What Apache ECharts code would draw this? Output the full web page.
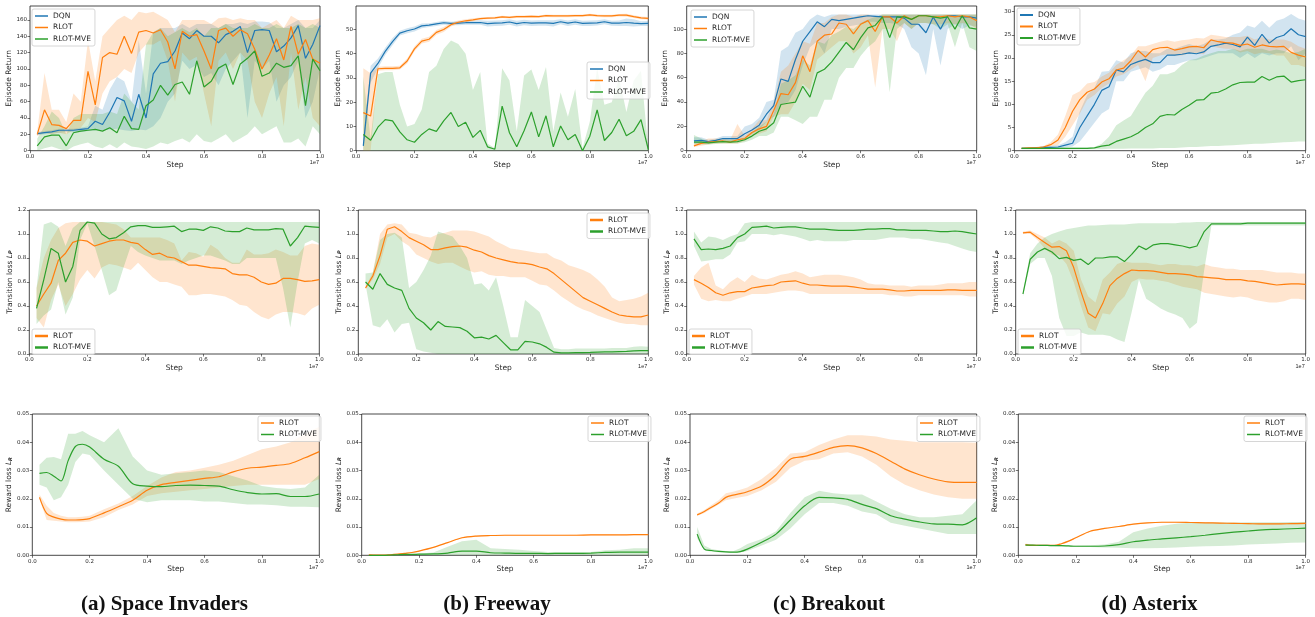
<!DOCTYPE html>
<html>
<head>
<meta charset="utf-8">
<script src="https://cdn.jsdelivr.net/npm/echarts@6/dist/echarts.min.js"></script>
<style>html,body{margin:0;padding:0;background:#fff}#main{width:1315px;height:617px}</style>
</head>
<body>
<div id="main"></div>
<script>
// steps in units of 1e7
var STEPS = [0.025,0.05,0.075,0.1,0.125,0.15,0.175,0.2,0.225,0.25,0.275,0.3,0.325,0.35,0.375,0.4,0.425,0.45,0.475,0.5,
  0.525,0.55,0.575,0.6,0.625,0.65,0.675,0.7,0.725,0.75,0.775,0.8,0.825,0.85,0.875,0.9,0.925,0.95,0.975,1.0];
var STEPS_R = [0.025,0.05,0.075,0.1,0.125,0.15,0.175,0.2,0.25,0.3,0.35,0.4,0.45,0.5,0.55,0.6,0.65,0.7,0.75,0.8,0.85,0.9,0.95,1.0];

var TICKS_X = [0,0.2,0.4,0.6,0.8,1.0];
var TICKS_SI_RET = [0,20,40,60,80,100,120,140,160];
var TICKS_FW_RET = [0,10,20,30,40,50];
var TICKS_BO_RET = [0,20,40,60,80,100];
var TICKS_AX_RET = [0,5,10,15,20,25,30];
var TICKS_TR = [0,0.2,0.4,0.6,0.8,1.0,1.2];
var TICKS_RW = [0,0.01,0.02,0.03,0.04,0.05];

var TITLES = ['(a) Space Invaders','(b) Freeway','(c) Breakout','(d) Asterix'];

// ---- episode return ----
var si_ret_dqn    = [21,22,23,25,25,25,26,27,36,32,47,65,61,36,69,40,94,107,109,122,144,137,147,140,140,132,142,146,152,120,147,148,147,121,128,138,153,113,130,153];
var si_ret_dqn_lo = [19,20,21,22,23,23,23,24,25,25,26,27,25,24,26,25,30,40,60,70,110,100,105,90,95,80,100,110,120,40,110,100,110,60,80,90,110,40,60,100];
var si_ret_dqn_hi = [23,24,25,27,27,27,28,30,55,50,75,90,85,60,135,70,145,150,150,150,155,150,155,155,155,150,155,155,157,155,158,158,157,150,150,155,160,150,150,160];
var si_ret_rlot    = [20,50,32,31,27,37,37,97,56,114,120,118,140,119,145,147,144,148,133,100,146,140,142,122,100,147,150,140,148,143,124,100,117,137,111,152,118,136,112,107];
var si_ret_rlot_lo = [18,22,20,22,20,25,28,40,35,70,85,90,100,95,120,130,130,135,110,60,120,110,115,70,30,110,120,100,120,110,60,40,70,90,30,120,50,90,40,30];
var si_ret_rlot_hi = [24,95,50,50,35,70,60,135,85,140,150,160,165,160,170,168,170,165,160,145,160,160,160,160,155,162,163,160,162,160,160,150,155,160,150,165,160,160,160,162];
var si_ret_mve    = [6,17,19,19,6,22,24,25,26,24,28,22,42,27,26,55,62,80,68,81,84,69,110,78,85,101,106,81,106,113,122,91,95,107,102,104,116,55,112,98];
var si_ret_mve_lo = [0,3,5,2,0,5,8,10,5,3,8,3,10,5,4,2,5,10,8,12,15,10,20,12,10,15,20,10,15,20,30,20,25,30,10,10,15,5,30,20];
var si_ret_mve_hi = [15,30,48,40,20,40,45,45,45,45,48,45,70,60,50,130,145,150,140,145,150,145,150,140,150,150,155,150,150,150,155,150,150,155,150,150,155,150,155,150];

var fw_ret_dqn    = [2,32,36,41,45,48.5,49.5,50.2,51.5,51.8,52.3,52.8,52.5,52.6,52.8,52.8,52.9,52.4,52.6,52.7,53.1,52.4,52.9,52.6,52.7,52.7,52.5,53.2,52.6,53.1,52.5,52.6,52.7,53.2,52.6,52.6,52.9,52.6,52.4,52.5];
var fw_ret_dqn_lo = [0,28,34,39.5,43.5,47.5,48.5,49.2,50.5,51,51.5,52,51.8,51.8,52,52,52,51.2,51.5,51.6,52,51.2,51.8,51.5,51.6,51.6,51.2,52.2,51.5,52,51.4,51.5,51.7,52.2,51.6,51.5,51.5,51.2,51.4,51.5];
var fw_ret_dqn_hi = [5,35,38,42.5,46.5,49.5,50.5,51.2,52.5,52.6,53.1,53.6,53.2,53.4,53.6,53.6,53.8,53.6,53.7,53.8,54.2,53.6,54,53.7,53.8,53.8,53.8,54.2,53.7,54.2,53.6,53.7,53.8,54.2,53.6,53.7,54.5,54.2,53.4,53.5];
var fw_ret_rlot    = [15.7,14.3,33.8,34,34,34.2,37,42,45.2,46,48.8,50,52,53,53.6,54,54.5,54.7,54.8,55.2,55,55.3,55.3,55.4,55.3,55.7,55.6,55.6,55.6,55.7,55.7,56,55.7,55.6,55.6,55.9,55.9,55.3,54.8,54.6];
var fw_ret_rlot_lo = [0,0,33,33.2,33.2,33.5,36,41,44.2,45,47.8,49,51.2,52.3,53,53.4,54,54.2,54.3,54.7,54.5,54.8,54.8,54.9,54.8,55.2,55.1,55.1,55.1,55.2,55.2,55.5,55.2,55.1,55.1,55.4,55.3,54.7,54.2,54];
var fw_ret_rlot_hi = [34,32,34.6,34.8,34.8,35,38,43,46.2,47,49.8,51,52.8,53.7,54.2,54.6,55,55.2,55.3,55.7,55.5,55.8,55.8,55.9,55.8,56.2,56.1,56.1,56.1,56.2,56.2,56.5,56.2,56.1,56.1,56.4,56.5,55.9,55.4,55.2];
var fw_ret_mve    = [6.7,4.3,9.7,12.8,12.3,7.8,4.5,3.5,6.7,9,8,12.3,15.8,10,11.7,5.5,8.4,1.6,0.6,18.4,7.4,1.6,8.2,16,5.7,14.4,1.6,10.2,4.5,6.7,0,6,16.8,4.2,7.5,13,6.2,8,12.8,0.5];
var fw_ret_mve_lo = [0,0,0,0,0,0,0,0,0,0,0,0,0,0,0,0,0,0,0,0,0,0,0,0,0,0,0,0,0,0,0,0,0,0,0,0,0,0,0,0];
var fw_ret_mve_hi = [30.5,5,31.5,32.5,32.5,19,10,11,17,32.5,35,42,45.5,44,40,25,32.5,3,1,34,29,8,31,33.5,25,34.5,8,24,14,25.5,1,12,34,19,20,30,16,29,33,1];

var bo_ret_dqn    = [8,8.5,7.5,8.5,10,10,10,14,17,21,30,37,59,57,75,90,98,106,102,108,107,108,109,110,111,110.5,110,110,110,109,104,104,97,110,100,111,111,110,110,109];
var bo_ret_dqn_lo = [6,6,6,7,8,8,8,11,14,17,24,28,38,40,50,70,85,90,80,100,100,102,103,104,106,106,105,105,104,100,85,80,62,100,70,100,104,100,103,102];
var bo_ret_dqn_hi = [11,11,9,10,12,12,12,20,22,27,40,42,82,86,97,100,108,112,110,112,112,112,112,112,112,112,112,112,112,112,112,112,112,112,112,112,112,112,112,112];
var bo_ret_rlot    = [4,6,7,7.5,8,7,9,10,15,18,20,33,47,46,56,78,65,90,95,96,105,104,96,104,107,98,110,110,105,111,108,111,111,110,110,111,110,111,110,107];
var bo_ret_rlot_lo = [3,4,5,6,6,6,6,8,12,14,16,28,30,30,40,55,50,75,80,85,90,90,80,85,95,52,100,100,90,105,100,105,105,104,104,105,104,105,104,100];
var bo_ret_rlot_hi = [6,8,10,10,10,9,22,12,18,25,25,40,65,70,80,90,88,105,105,110,112,112,110,112,112,110,112,112,112,112,112,112,112,112,112,112,112,112,112,112];
var bo_ret_mve    = [7,7,6.5,7,7.5,7,7.5,9,12,16,18,23,38,39,40,53,44,64,67,73,81,89,83,93,101,103,110,93,110,110,108,111,111,110,109,110,100,111,101,100];
var bo_ret_mve_lo = [5,5,5,5.5,6,6,6,7,9,12,12,15,28,28,25,22,28,28,42,42,60,68,68,78,85,90,100,48,100,105,100,105,105,104,100,104,85,105,85,82];
var bo_ret_mve_hi = [13,10,8,9,9,9,9,11,15,20,24,30,55,58,62,75,70,90,88,95,98,102,100,105,108,110,112,112,112,112,112,112,112,112,112,112,112,112,112,112];

var ax_ret_dqn    = [0.5,0.5,0.6,0.7,0.7,0.8,1.2,1.6,5,7.5,10,13,13.8,17.4,17,18.6,19.2,19.7,19,19,20.6,20.6,20.8,21.1,20.9,21.3,22.5,22.8,23.2,22.9,22.4,24.5,22.7,25.1,23.2,24.4,24.9,26.3,25,24.6];
var ax_ret_dqn_lo = [0.4,0.4,0.4,0.5,0.5,0.5,0.7,0.9,2,4,6,8,9,15,15,17,17.5,18,17,17.5,18.5,18.5,19,19.5,19.5,20,20.5,21,21,21,20,21,20,21,20.5,21,21,22.5,19.5,21];
var ax_ret_dqn_hi = [0.6,0.7,0.8,0.9,1,1.2,1.8,3,8.5,12,13.5,17,17.2,19.5,19,21,21.5,21.5,21,21,22,22,22.5,23,22.5,23,24,24,24.2,25,25.5,27,26.5,28,26.5,28,28.5,29.5,28.5,28];
var ax_ret_rlot    = [0.5,0.6,0.6,0.8,1.3,2.3,5,8.5,11,12.6,13.3,14.8,15.5,17.4,17.8,19.4,21.6,20.2,21.8,22.2,22.3,21.7,22,22.4,22.5,22.2,23.9,23.5,23.3,23.2,22.7,23,22.3,22.8,22.5,22.4,22.5,21.2,20.6,20.2];
var ax_ret_rlot_lo = [0.4,0.5,0.5,0.6,0.9,1.2,3,5.5,8,11,12,13.5,14.5,16,16.5,17.5,18.5,15,20,20.5,20.8,20.5,20.5,21,21,20.8,22.5,22.2,22,22,21.2,21.5,20.8,21.2,21,20.5,20.5,18.5,18.5,18];
var ax_ret_rlot_hi = [0.6,0.7,0.8,1,1.8,3.5,7.5,12,12.8,14.5,14.8,16,16.8,18.5,19.5,20.5,22.5,22.5,23,23.5,23.8,23.5,23.8,24,24.3,24.2,25,24.8,24.5,24.5,24.5,24.8,24,24.5,24,24,24,23.5,22.5,22];
var ax_ret_mve    = [0.5,0.5,0.5,0.5,0.5,0.5,0.5,0.5,0.5,0.5,0.6,1,1.2,2,2.5,3,3.8,5,5.8,7.4,7.8,7.7,8.9,9.8,10.9,11,12.4,12.6,13.3,14.2,14.7,14.8,14.8,16,15.2,15.9,16.1,14.8,15.1,15.3];
var ax_ret_mve_lo = [0.3,0.3,0.3,0.3,0.3,0.3,0.3,0.3,0.3,0.3,0.3,0.3,0.4,0.4,0.4,0.5,0.5,0.5,0.5,0.6,0.6,0.6,0.7,0.8,0.8,0.9,1,1,1.1,1.2,1.3,1.4,1.5,1.5,1.6,1.7,1.8,1.9,2,2];
var ax_ret_mve_hi = [0.7,0.7,0.7,0.7,0.7,0.7,0.7,0.7,0.7,0.7,0.8,1.5,3,5.5,6.5,7.5,10,12.5,14,16.5,16.5,17,18.5,19.5,19.8,20.5,21,21.5,21.5,22,21.5,22,22,22,21.5,21.8,21.5,21,21.3,22];

// ---- transition loss ----
var si_tr_rlot    = [0.40,0.50,0.59,0.78,0.84,0.93,0.95,0.94,0.90,0.92,0.94,0.95,0.95,0.93,0.92,0.87,0.83,0.84,0.81,0.80,0.77,0.74,0.74,0.73,0.72,0.715,0.71,0.67,0.66,0.66,0.64,0.60,0.58,0.59,0.63,0.63,0.62,0.605,0.61,0.62];
var si_tr_rlot_lo = [0.30,0.22,0.45,0.58,0.40,0.50,0.62,0.70,0.63,0.72,0.75,0.74,0.72,0.70,0.76,0.70,0.64,0.60,0.60,0.58,0.56,0.49,0.49,0.50,0.50,0.49,0.48,0.45,0.41,0.40,0.35,0.31,0.29,0.33,0.35,0.35,0.34,0.32,0.38,0.41];
var si_tr_rlot_hi = [0.55,0.80,0.95,1.05,1.09,1.10,1.10,1.10,1.10,1.10,1.09,1.08,1.04,0.97,0.97,0.97,0.97,0.97,0.95,0.92,0.78,0.85,0.84,0.81,0.91,0.87,0.80,0.76,0.76,0.87,0.83,0.83,0.84,0.87,0.85,0.82,0.82,0.90,0.92,0.91];
var si_tr_mve    = [0.38,0.62,0.88,0.84,0.60,0.73,1.03,1.10,1.09,1.00,0.96,0.97,1.01,1.06,1.07,1.07,1.055,1.055,1.06,1.065,1.02,1.04,1.04,1.03,1.06,1.05,1.025,1.02,1.02,1.05,1.035,1.035,1.035,1.045,1.04,0.90,0.97,1.065,1.06,1.055];
var si_tr_mve_lo = [0.25,0.32,0.37,0.60,0.33,0.47,0.95,1.09,0.90,0.70,0.49,0.53,0.72,0.90,0.85,0.82,0.80,0.78,0.78,0.78,0.75,0.78,0.80,0.82,0.82,0.80,0.78,0.75,0.75,0.80,0.80,0.80,0.80,0.80,0.55,0.22,0.60,0.92,0.95,0.92];
var si_tr_mve_hi = [0.55,1.08,1.10,1.06,0.90,1.05,1.10,1.10,1.10,1.10,1.10,1.10,1.10,1.10,1.10,1.10,1.10,1.10,1.10,1.10,1.10,1.10,1.10,1.10,1.10,1.10,1.10,1.10,1.10,1.10,1.10,1.10,1.10,1.10,1.10,1.10,1.10,1.10,1.10,1.10];

var fw_tr_rlot    = [0.55,0.65,0.82,1.04,1.06,1.02,0.97,0.94,0.91,0.87,0.87,0.885,0.895,0.90,0.89,0.865,0.85,0.82,0.80,0.785,0.77,0.76,0.755,0.745,0.725,0.71,0.67,0.62,0.57,0.52,0.47,0.44,0.41,0.38,0.35,0.325,0.315,0.31,0.31,0.325];
var fw_tr_rlot_lo = [0.54,0.62,0.75,0.97,1.0,0.94,0.90,0.83,0.80,0.77,0.75,0.76,0.76,0.73,0.70,0.68,0.69,0.66,0.65,0.65,0.64,0.64,0.64,0.61,0.58,0.57,0.53,0.48,0.44,0.40,0.37,0.35,0.32,0.30,0.28,0.26,0.25,0.25,0.24,0.24];
var fw_tr_rlot_hi = [0.56,0.68,1.0,1.08,1.09,1.08,1.01,1.00,0.98,0.97,1.0,1.01,1.03,1.03,1.03,1.02,1.0,0.98,0.94,0.91,0.88,0.87,0.86,0.85,0.84,0.84,0.80,0.78,0.74,0.72,0.70,0.67,0.62,0.56,0.47,0.44,0.45,0.46,0.48,0.51];
var fw_tr_mve    = [0.60,0.54,0.67,0.58,0.55,0.53,0.38,0.30,0.26,0.20,0.27,0.23,0.225,0.22,0.19,0.135,0.14,0.125,0.155,0.095,0.035,0.035,0.105,0.10,0.085,0.055,0.015,0.01,0.01,0.012,0.012,0.013,0.015,0.017,0.018,0.02,0.022,0.026,0.028,0.028];
var fw_tr_mve_lo = [0.58,0.24,0.22,0.29,0.18,0.25,0.26,0.04,0.02,0.01,0,0,0,0,0,0,0,0,0,0,0,0,0,0,0,0,0,0,0,0,0,0,0,0,0,0,0,0,0,0];
var fw_tr_mve_hi = [0.67,0.68,0.95,1.0,1.01,0.97,0.55,0.60,0.70,0.82,1.02,1.0,0.98,0.90,0.80,0.58,0.59,0.53,0.64,0.40,0.14,0.14,0.45,0.40,0.35,0.20,0.05,0.04,0.04,0.045,0.045,0.045,0.045,0.045,0.05,0.05,0.05,0.06,0.065,0.06];

var bo_tr_rlot    = [0.62,0.59,0.555,0.51,0.49,0.51,0.52,0.52,0.55,0.56,0.57,0.575,0.60,0.605,0.61,0.59,0.575,0.575,0.57,0.565,0.565,0.565,0.56,0.55,0.54,0.54,0.54,0.535,0.525,0.525,0.53,0.53,0.53,0.53,0.53,0.535,0.535,0.53,0.53,0.53];
var bo_tr_rlot_lo = [0.58,0.46,0.44,0.45,0.44,0.44,0.46,0.48,0.50,0.50,0.50,0.51,0.52,0.53,0.53,0.52,0.50,0.50,0.50,0.50,0.50,0.50,0.50,0.50,0.50,0.50,0.50,0.49,0.49,0.48,0.48,0.49,0.49,0.49,0.49,0.49,0.49,0.49,0.48,0.48];
var bo_tr_rlot_hi = [0.65,0.72,0.76,0.57,0.54,0.60,0.64,0.60,0.66,0.63,0.62,0.64,0.66,0.67,0.69,0.67,0.64,0.65,0.66,0.66,0.66,0.65,0.64,0.62,0.59,0.58,0.58,0.57,0.57,0.57,0.56,0.57,0.57,0.57,0.58,0.59,0.59,0.59,0.60,0.60];
var bo_tr_mve    = [0.96,0.87,0.875,0.87,0.88,0.90,0.97,1.0,1.055,1.06,1.065,1.05,1.055,1.06,1.06,1.05,1.04,1.04,1.04,1.035,1.03,1.03,1.03,1.035,1.04,1.04,1.045,1.045,1.035,1.035,1.03,1.03,1.03,1.025,1.02,1.02,1.025,1.02,1.01,1.0];
var bo_tr_mve_lo = [0.90,0.77,0.78,0.79,0.79,0.83,0.93,0.94,1.0,1.0,1.0,0.99,1.0,0.99,0.98,0.96,0.94,0.95,0.94,0.94,0.94,0.94,0.95,0.95,0.95,0.95,0.96,0.97,0.97,0.97,0.96,0.96,0.95,0.94,0.93,0.92,0.90,0.88,0.86,0.85];
var bo_tr_mve_hi = [1.02,0.93,0.98,0.97,0.95,0.98,1.0,1.09,1.10,1.10,1.10,1.10,1.10,1.10,1.10,1.10,1.10,1.10,1.10,1.10,1.10,1.10,1.10,1.10,1.10,1.10,1.10,1.10,1.10,1.10,1.10,1.10,1.10,1.10,1.10,1.10,1.10,1.10,1.10,1.10];

var ax_tr_rlot    = [1.01,1.015,0.97,0.93,0.89,0.895,0.86,0.72,0.52,0.34,0.30,0.42,0.57,0.63,0.67,0.70,0.695,0.695,0.69,0.68,0.67,0.67,0.665,0.66,0.645,0.64,0.635,0.63,0.62,0.62,0.62,0.61,0.605,0.595,0.585,0.575,0.58,0.585,0.585,0.58];
var ax_tr_rlot_lo = [1.0,1.0,0.95,0.88,0.83,0.82,0.75,0.60,0.40,0.22,0.19,0.34,0.33,0.42,0.48,0.60,0.63,0.62,0.62,0.61,0.60,0.58,0.56,0.55,0.54,0.51,0.50,0.49,0.48,0.47,0.48,0.47,0.45,0.44,0.43,0.43,0.44,0.46,0.46,0.45];
var ax_tr_rlot_hi = [1.02,1.03,1.0,0.97,0.92,0.95,0.92,0.86,0.62,0.48,0.43,0.62,0.68,0.75,0.77,0.76,0.76,0.76,0.75,0.74,0.75,0.75,0.74,0.74,0.73,0.75,0.73,0.72,0.71,0.71,0.70,0.70,0.70,0.70,0.69,0.68,0.68,0.68,0.67,0.67];
var ax_tr_mve    = [0.50,0.79,0.85,0.88,0.85,0.795,0.805,0.78,0.79,0.745,0.80,0.80,0.81,0.81,0.77,0.83,0.90,0.87,0.91,0.92,0.92,0.91,0.90,0.885,0.90,1.02,1.085,1.085,1.085,1.085,1.085,1.09,1.09,1.09,1.09,1.09,1.09,1.09,1.09,1.09];
var ax_tr_mve_lo = [0.48,0.75,0.80,0.80,0.65,0.30,0.15,0.15,0.18,0.16,0.16,0.16,0.15,0.12,0.10,0.35,0.62,0.46,0.42,0.38,0.35,0.33,0.30,0.21,0.26,0.70,1.07,1.07,1.07,1.07,1.07,1.07,1.07,1.07,1.07,1.07,1.07,1.07,1.07,1.07];
var ax_tr_mve_hi = [0.52,0.84,0.92,0.97,1.0,1.02,1.04,1.05,1.06,1.07,1.07,1.075,1.08,1.08,1.08,1.085,1.09,1.09,1.09,1.09,1.09,1.09,1.095,1.095,1.10,1.10,1.10,1.10,1.10,1.10,1.10,1.10,1.10,1.10,1.10,1.10,1.10,1.10,1.10,1.10];

// ---- reward loss (on STEPS_R) ----
var si_rw_rlot    = [0.0205,0.0148,0.0135,0.0128,0.0125,0.0125,0.0126,0.0130,0.0150,0.0172,0.0195,0.0230,0.0250,0.0258,0.0265,0.0272,0.0278,0.0295,0.0308,0.0312,0.0318,0.0325,0.0345,0.0367];
var si_rw_rlot_lo = [0.0200,0.0125,0.0122,0.0120,0.0117,0.0117,0.0118,0.0120,0.0135,0.0160,0.0180,0.0210,0.0220,0.0225,0.0230,0.0235,0.0240,0.0245,0.0250,0.0250,0.0250,0.0250,0.0250,0.0270];
var si_rw_rlot_hi = [0.0215,0.0175,0.0150,0.0140,0.0135,0.0135,0.0136,0.0140,0.0163,0.0183,0.0210,0.0245,0.0275,0.0295,0.0300,0.0310,0.0320,0.0335,0.0355,0.0375,0.0385,0.0400,0.0430,0.0455];
var si_rw_mve    = [0.0290,0.0293,0.0280,0.0263,0.0335,0.0385,0.0393,0.0383,0.0340,0.0315,0.0253,0.0245,0.0243,0.0247,0.0248,0.0247,0.0245,0.0232,0.0222,0.0217,0.0218,0.0208,0.0208,0.0217];
var si_rw_mve_lo = [0.0250,0.0240,0.0195,0.0205,0.0250,0.0330,0.0360,0.0355,0.0300,0.0250,0.0200,0.0188,0.0195,0.0195,0.0195,0.0190,0.0190,0.0185,0.0180,0.0180,0.0177,0.0172,0.0172,0.0170];
var si_rw_mve_hi = [0.0320,0.0345,0.0348,0.0340,0.0430,0.0430,0.0440,0.0425,0.0400,0.0450,0.0350,0.0300,0.0285,0.0290,0.0295,0.0300,0.0295,0.0280,0.0265,0.0245,0.0238,0.0235,0.0240,0.0285];

var fw_rw_rlot    = [0.0002,0.0001,0.0001,0.0002,0.0004,0.0007,0.0010,0.0015,0.0028,0.0045,0.0062,0.0068,0.0070,0.0071,0.0071,0.0071,0.0071,0.0071,0.0071,0.0072,0.0072,0.0072,0.0073,0.0073];
var fw_rw_rlot_lo = [0.0000,0.0000,0.0000,0.0001,0.0003,0.0006,0.0009,0.0014,0.0027,0.0044,0.0060,0.0066,0.0068,0.0069,0.0069,0.0069,0.0069,0.0069,0.0069,0.0070,0.0070,0.0070,0.0071,0.0071];
var fw_rw_rlot_hi = [0.0004,0.0002,0.0002,0.0003,0.0005,0.0008,0.0011,0.0016,0.0029,0.0046,0.0064,0.0070,0.0072,0.0073,0.0073,0.0073,0.0073,0.0073,0.0074,0.0075,0.0075,0.0074,0.0075,0.0075];
var fw_rw_mve    = [0.0000,0.0000,0.0000,0.0001,0.0002,0.0003,0.0003,0.0004,0.0005,0.0008,0.0015,0.0015,0.0009,0.0008,0.0007,0.0007,0.0006,0.0007,0.0007,0.0008,0.0010,0.0011,0.0011,0.0011];
var fw_rw_mve_lo = [0,0,0,0,0,0,0,0,0,0,0,0,0,0,0,0,0,0,0,0,0,0,0,0];
var fw_rw_mve_hi = [0.0001,0.0001,0.0001,0.0002,0.0003,0.0004,0.0005,0.0006,0.0010,0.0030,0.0050,0.0055,0.0025,0.0022,0.0020,0.0015,0.0012,0.0012,0.0012,0.0012,0.0018,0.0020,0.0025,0.0025];

var bo_rw_rlot    = [0.0143,0.0155,0.0170,0.0185,0.0205,0.0213,0.0218,0.0225,0.0245,0.0285,0.0340,0.0350,0.0365,0.0382,0.0388,0.0380,0.0360,0.0333,0.0305,0.0285,0.0270,0.0260,0.0258,0.0258];
var bo_rw_rlot_lo = [0.0140,0.0150,0.0165,0.0180,0.0195,0.0200,0.0205,0.0210,0.0230,0.0260,0.0310,0.0335,0.0340,0.0360,0.0365,0.0350,0.0320,0.0280,0.0250,0.0230,0.0215,0.0205,0.0200,0.0200];
var bo_rw_rlot_hi = [0.0148,0.0160,0.0178,0.0195,0.0220,0.0225,0.0232,0.0240,0.0270,0.0310,0.0360,0.0365,0.0390,0.0410,0.0425,0.0425,0.0420,0.0410,0.0405,0.0400,0.0400,0.0400,0.0400,0.0398];
var bo_rw_mve    = [0.0075,0.0022,0.0017,0.0014,0.0012,0.0011,0.0013,0.0022,0.0046,0.0075,0.0125,0.0175,0.0205,0.0203,0.0198,0.0180,0.0165,0.0140,0.0128,0.0118,0.0111,0.0110,0.0108,0.0133];
var bo_rw_mve_lo = [0.0060,0.0018,0.0013,0.0011,0.0010,0.0009,0.0010,0.0015,0.0035,0.0055,0.0095,0.0145,0.0185,0.0185,0.0175,0.0155,0.0145,0.0115,0.0105,0.0095,0.0085,0.0075,0.0075,0.0075];
var bo_rw_mve_hi = [0.0100,0.0035,0.0022,0.0018,0.0015,0.0014,0.0025,0.0040,0.0058,0.0085,0.0150,0.0205,0.0228,0.0220,0.0215,0.0215,0.0190,0.0165,0.0145,0.0135,0.0135,0.0140,0.0145,0.0195];

var ax_rw_rlot    = [0.0038,0.0035,0.0035,0.0035,0.0035,0.0041,0.0050,0.0062,0.0085,0.0095,0.0102,0.0110,0.0115,0.0117,0.0117,0.0116,0.0115,0.0114,0.0113,0.0112,0.0111,0.0111,0.0112,0.0113];
var ax_rw_rlot_lo = [0.0035,0.0033,0.0033,0.0033,0.0033,0.0039,0.0048,0.0060,0.0083,0.0093,0.0100,0.0108,0.0113,0.0115,0.0115,0.0114,0.0113,0.0112,0.0111,0.0110,0.0109,0.0109,0.0110,0.0111];
var ax_rw_rlot_hi = [0.0042,0.0037,0.0037,0.0037,0.0037,0.0043,0.0052,0.0064,0.0087,0.0097,0.0104,0.0112,0.0117,0.0119,0.0119,0.0118,0.0117,0.0116,0.0115,0.0114,0.0113,0.0113,0.0115,0.0117];
var ax_rw_mve    = [0.0036,0.0036,0.0035,0.0035,0.0034,0.0034,0.0033,0.0032,0.0032,0.0033,0.0038,0.0048,0.0054,0.0058,0.0062,0.0066,0.0071,0.0077,0.0082,0.0086,0.0090,0.0092,0.0094,0.0096];
var ax_rw_mve_lo = [0.0034,0.0034,0.0033,0.0033,0.0032,0.0031,0.0030,0.0030,0.0029,0.0028,0.0027,0.0025,0.0025,0.0026,0.0028,0.0030,0.0032,0.0033,0.0035,0.0038,0.0040,0.0042,0.0044,0.0045];
var ax_rw_mve_hi = [0.0038,0.0038,0.0037,0.0037,0.0036,0.0036,0.0036,0.0035,0.0036,0.0038,0.0048,0.0082,0.0095,0.0105,0.0112,0.0115,0.0116,0.0116,0.0116,0.0117,0.0117,0.0117,0.0118,0.0118];

var COLORS = {'DQN': '#1f77b4', 'RLOT': '#ff7f0e', 'RLOT-MVE': '#2ca02c'};
var BANDS = {'DQN': 'rgba(31,119,180,0.2)', 'RLOT': 'rgba(255,127,14,0.2)', 'RLOT-MVE': 'rgba(44,160,44,0.2)'};

var RET_NAME = 'Episode Return';
var TR_NAME = 'Transition loss {l|L}{s|P}';
var RW_NAME = 'Reward loss {l|L}{s|R}';

// box = [left, top, right, bottom] of the plot frame, nameX = centre of the y label
var panels = [
  {box: [30, 6, 320, 150.7], yMax: 177, ticks: TICKS_SI_RET, dec: 0, name: RET_NAME, nameX: 11.7, leg: [32, 9], legLine: 1.5, steps: STEPS,
   lines: [['DQN', si_ret_dqn, si_ret_dqn_lo, si_ret_dqn_hi], ['RLOT', si_ret_rlot, si_ret_rlot_lo, si_ret_rlot_hi], ['RLOT-MVE', si_ret_mve, si_ret_mve_lo, si_ret_mve_hi]]},
  {box: [356, 6, 648.3, 150.7], yMax: 59.7, ticks: TICKS_FW_RET, dec: 0, name: RET_NAME, nameX: 341.7, leg: [587, 62], legLine: 1.5, steps: STEPS,
   lines: [['DQN', fw_ret_dqn, fw_ret_dqn_lo, fw_ret_dqn_hi], ['RLOT', fw_ret_rlot, fw_ret_rlot_lo, fw_ret_rlot_hi], ['RLOT-MVE', fw_ret_mve, fw_ret_mve_lo, fw_ret_mve_hi]]},
  {box: [686.7, 6, 976.7, 150.7], yMax: 119, ticks: TICKS_BO_RET, dec: 0, name: RET_NAME, nameX: 669.3, leg: [691, 10], legLine: 1.5, steps: STEPS,
   lines: [['DQN', bo_ret_dqn, bo_ret_dqn_lo, bo_ret_dqn_hi], ['RLOT', bo_ret_rlot, bo_ret_rlot_lo, bo_ret_rlot_hi], ['RLOT-MVE', bo_ret_mve, bo_ret_mve_lo, bo_ret_mve_hi]]},
  {box: [1014.3, 6, 1305.7, 150.7], yMax: 31.2, ticks: TICKS_AX_RET, dec: 0, name: RET_NAME, nameX: 997.7, leg: [1017, 8], legLine: 2, steps: STEPS,
   lines: [['DQN', ax_ret_dqn, ax_ret_dqn_lo, ax_ret_dqn_hi], ['RLOT', ax_ret_rlot, ax_ret_rlot_lo, ax_ret_rlot_hi], ['RLOT-MVE', ax_ret_mve, ax_ret_mve_lo, ax_ret_mve_hi]]},

  {box: [29.3, 210, 319.3, 354], yMax: 1.2, ticks: TICKS_TR, dec: 1, name: TR_NAME, nameX: 11, leg: [32, 329], legLine: 2.5, steps: STEPS,
   lines: [['RLOT', si_tr_rlot, si_tr_rlot_lo, si_tr_rlot_hi], ['RLOT-MVE', si_tr_mve, si_tr_mve_lo, si_tr_mve_hi]]},
  {box: [358.3, 210, 648.3, 354], yMax: 1.2, ticks: TICKS_TR, dec: 1, name: TR_NAME, nameX: 340.7, leg: [587, 213], legLine: 2.5, steps: STEPS,
   lines: [['RLOT', fw_tr_rlot, fw_tr_rlot_lo, fw_tr_rlot_hi], ['RLOT-MVE', fw_tr_mve, fw_tr_mve_lo, fw_tr_mve_hi]]},
  {box: [686.7, 210, 976.7, 354], yMax: 1.2, ticks: TICKS_TR, dec: 1, name: TR_NAME, nameX: 668.3, leg: [689, 329], legLine: 2.5, steps: STEPS,
   lines: [['RLOT', bo_tr_rlot, bo_tr_rlot_lo, bo_tr_rlot_hi], ['RLOT-MVE', bo_tr_mve, bo_tr_mve_lo, bo_tr_mve_hi]]},
  {box: [1015.7, 210, 1305.7, 354], yMax: 1.2, ticks: TICKS_TR, dec: 1, name: TR_NAME, nameX: 997.3, leg: [1018, 329], legLine: 2.5, steps: STEPS,
   lines: [['RLOT', ax_tr_rlot, ax_tr_rlot_lo, ax_tr_rlot_hi], ['RLOT-MVE', ax_tr_mve, ax_tr_mve_lo, ax_tr_mve_hi]]},

  {box: [32.3, 414, 319.3, 555.3], yMax: 0.05, ticks: TICKS_RW, dec: 2, name: RW_NAME, nameX: 11.7, leg: [258, 416], legLine: 1.5, steps: STEPS_R, smooth: true,
   lines: [['RLOT', si_rw_rlot, si_rw_rlot_lo, si_rw_rlot_hi], ['RLOT-MVE', si_rw_mve, si_rw_mve_lo, si_rw_mve_hi]]},
  {box: [361.7, 414, 648.3, 555.3], yMax: 0.05, ticks: TICKS_RW, dec: 2, name: RW_NAME, nameX: 340, leg: [588, 416], legLine: 1.5, steps: STEPS_R, smooth: true,
   lines: [['RLOT', fw_rw_rlot, fw_rw_rlot_lo, fw_rw_rlot_hi], ['RLOT-MVE', fw_rw_mve, fw_rw_mve_lo, fw_rw_mve_hi]]},
  {box: [690, 414, 976.7, 555.3], yMax: 0.05, ticks: TICKS_RW, dec: 2, name: RW_NAME, nameX: 668.3, leg: [917, 416], legLine: 1.5, steps: STEPS_R, smooth: true,
   lines: [['RLOT', bo_rw_rlot, bo_rw_rlot_lo, bo_rw_rlot_hi], ['RLOT-MVE', bo_rw_mve, bo_rw_mve_lo, bo_rw_mve_hi]]},
  {box: [1018.3, 414, 1305.7, 555.3], yMax: 0.05, ticks: TICKS_RW, dec: 2, name: RW_NAME, nameX: 996.7, leg: [1244, 416], legLine: 1.5, steps: STEPS_R, smooth: true,
   lines: [['RLOT', ax_rw_rlot, ax_rw_rlot_lo, ax_rw_rlot_hi], ['RLOT-MVE', ax_rw_mve, ax_rw_mve_lo, ax_rw_mve_hi]]}
];
var TITLE_X = [164.5, 497, 829, 1149.5];

function zip(xs, ys) {
  var out = [];
  for (var k = 0; k < xs.length; k++) out.push([xs[k], ys[k]]);
  return out;
}

function band(i, steps, lo, hi, color) {
  return {
    type: 'custom', xAxisIndex: i, yAxisIndex: i, silent: true, clip: true, z: 1,
    data: [[steps[0], lo[0]]],
    renderItem: function (params, api) {
      var pts = [];
      for (var k = 0; k < steps.length; k++) pts.push(api.coord([steps[k], hi[k]]));
      for (var k = steps.length - 1; k >= 0; k--) pts.push(api.coord([steps[k], lo[k]]));
      return {type: 'polygon', shape: {points: pts}, style: {fill: color, stroke: null}};
    }
  };
}

var TXT = '#262626';
var option = {
  animation: false,
  textStyle: {fontFamily: 'DejaVu Sans'},
  grid: [], xAxis: [], yAxis: [], legend: [], series: [], graphic: []
};

panels.forEach(function (p, i) {
  var b = p.box;
  option.grid.push({left: b[0], top: b[1], width: b[2] - b[0], height: b[3] - b[1],
    show: true, borderColor: '#1a1a1a', borderWidth: 0.8, containLabel: false});
  option.xAxis.push({
    type: 'value', gridIndex: i, min: 0, max: 1, interval: 0.2,
    axisLine: {show: false}, splitLine: {show: false},
    axisTick: {show: true, length: 2.5, customValues: TICKS_X, lineStyle: {color: '#1a1a1a', width: 0.6}},
    axisLabel: {fontSize: 5.5, color: TXT, margin: 3, customValues: TICKS_X,
      formatter: function (v) { return v.toFixed(1); }},
    name: 'Step', nameLocation: 'middle', nameGap: 9.5,
    nameTextStyle: {fontSize: 7.5, color: TXT}
  });
  var dec = p.dec;
  option.yAxis.push({
    type: 'value', gridIndex: i, min: 0, max: p.yMax, interval: p.ticks[1] - p.ticks[0],
    axisLine: {show: false}, splitLine: {show: false},
    axisTick: {show: true, length: 2.5, customValues: p.ticks, lineStyle: {color: '#1a1a1a', width: 0.6}},
    axisLabel: {fontSize: 5.5, color: TXT, margin: 3, customValues: p.ticks,
      formatter: function (v) { return v.toFixed(dec); }},
    name: p.name, nameLocation: 'middle', nameGap: b[0] - p.nameX - 4.5,
    nameTextStyle: {fontSize: 7.5, color: TXT,
      rich: {l: {fontSize: 7.5, fontStyle: 'italic', color: TXT},
             s: {fontSize: 5, fontStyle: 'italic', fontWeight: 'bold', color: TXT, verticalAlign: 'bottom', padding: [3, 0, 0, 0]}}}
  });
  var names = [];
  p.lines.forEach(function (l) {
    names.push(l[0]);
    option.series.push(band(i, p.steps, l[2], l[3], BANDS[l[0]]));
  });
  p.lines.forEach(function (l) {
    option.series.push({
      type: 'line', name: l[0], xAxisIndex: i, yAxisIndex: i, z: 3,
      data: zip(p.steps, l[1]), symbol: 'none', showSymbol: false, smooth: p.smooth ? 0.3 : false,
      lineStyle: {width: 1.2, color: COLORS[l[0]]}, itemStyle: {color: COLORS[l[0]]}
    });
  });
  option.legend.push({
    left: p.leg[0], top: p.leg[1], orient: 'vertical', data: names,
    icon: 'rect', itemWidth: 13, itemHeight: p.legLine, itemGap: 3.5, padding: [3, 4, 3, 3],
    borderColor: '#cccccc', borderWidth: 0.8, borderRadius: 2, backgroundColor: 'rgba(255,255,255,0.8)',
    textStyle: {fontSize: 7.5, color: TXT}
  });
  option.graphic.push({type: 'text', x: b[2] - 1, y: b[3] + 12,
    style: {text: '1e7', fontSize: 5.5, fill: TXT, align: 'right', verticalAlign: 'middle'}});
});

TITLES.forEach(function (t, k) {
  option.graphic.push({type: 'text', x: TITLE_X[k], y: 605,
    style: {text: t, fontFamily: 'Liberation Serif', fontWeight: 'bold', fontSize: 21, fill: '#111',
      align: 'center', verticalAlign: 'middle'}});
});

var myChart = echarts.init(document.getElementById('main'));
myChart.setOption(option);
</script>
</body>
</html>
